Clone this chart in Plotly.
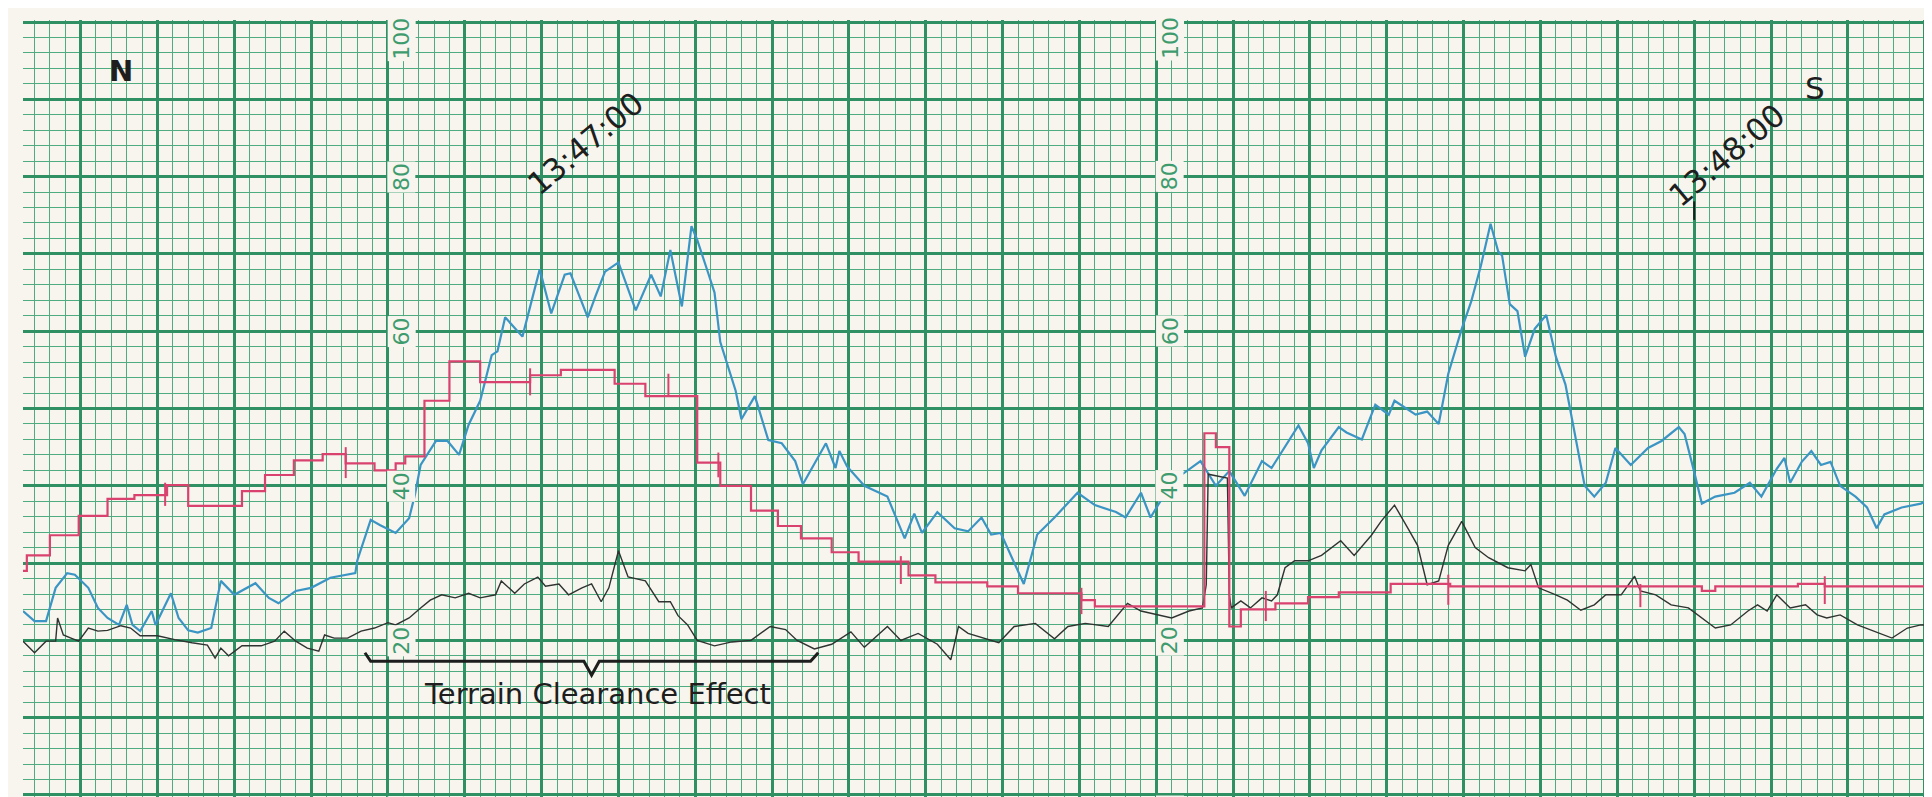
import plotly.graph_objects as go

# ---------------- data (time: seconds relative to 13:47:00, value: chart divisions 0-100) ----------------
blue_t = [-27.0, -26.4, -25.8, -25.3, -24.7, -24.3, -23.6, -23.1, -22.6, -22.0, -21.6, -21.3, -20.9, -20.3,
          -20.1, -19.3, -18.9, -18.4, -17.9, -17.2, -16.7, -16.0, -14.9, -14.2, -13.7, -12.8, -12.0, -11.0,
          -9.7, -9.6, -8.9, -8.4, -7.6, -6.9, -6.6, -6.3, -5.5, -4.9, -4.3, -3.8, -3.2, -2.6, -2.3, -1.9,
          -1.0, -0.1, 0.5, 1.2, 1.5, 2.4, 2.8, 3.3, 4.0, 4.9, 5.7, 6.2, 6.7, 7.3, 7.8, 8.1, 8.7, 9.0, 9.3,
          10.1, 10.4, 11.1, 11.8, 12.5, 13.2, 13.6, 14.8, 15.3, 15.5, 15.9, 16.8, 18.0, 18.9, 19.4, 19.8,
          20.6, 21.5, 22.2, 22.9, 23.4, 23.9, 25.1, 25.8, 26.7, 27.9, 28.8, 29.9, 30.4, 31.2, 31.7, 32.6,
          33.3, 34.3, 35.1, 35.8, 36.6, 37.5, 38.0, 39.4, 39.9, 40.2, 40.6, 41.5, 41.9, 42.7, 43.4, 44.1,
          44.4, 45.5, 46.1, 46.7, 47.2, 47.9, 48.4, 48.9, 49.4, 49.8, 50.0, 50.4, 50.8, 51.2, 51.7, 52.3,
          52.8, 53.3, 53.8, 54.3, 54.8, 55.4, 55.9, 56.7, 57.6, 58.3, 59.2, 59.5, 60.0, 60.4, 61.1, 62.1,
          62.9, 63.5, 64.3, 64.7, 65.0, 65.6, 66.1, 66.6, 67.1, 67.6, 68.4, 69.0, 69.5, 69.9, 70.8, 71.8, 72.6]
blue_v = [23.8, 22.5, 22.5, 26.8, 28.7, 28.5, 26.8, 24.2, 22.9, 22.0, 24.6, 22.0, 21.2, 23.8,
          22.0, 26.1, 22.9, 21.3, 21.0, 21.6, 27.7, 25.9, 27.4, 25.5, 24.8, 26.4, 26.8, 28.1,
          28.7, 30.3, 35.6, 34.9, 33.9, 35.8, 38.8, 42.7, 45.8, 45.8, 44.0, 47.9, 51.0, 56.9, 57.4, 61.8,
          59.3, 68.0, 62.3, 67.3, 67.5, 61.8, 64.5, 67.7, 68.9, 62.7, 67.3, 64.5, 70.5, 63.2, 73.6, 71.8, 67.3, 65.0, 58.6,
          52.3, 48.6, 51.6, 45.9, 45.5, 43.2, 40.2, 45.5, 42.3, 44.5, 42.5, 40.0, 38.6, 33.2, 36.4, 33.9,
          36.6, 34.5, 34.1, 35.9, 33.7, 33.9, 27.3, 33.7, 35.9, 39.1, 37.5, 36.6, 35.9, 39.1, 35.9, 39.6,
          41.4, 43.2, 40.0, 41.9, 38.7, 43.2, 42.3, 47.8, 45.5, 42.3, 44.6, 47.6, 46.9, 46.0, 50.5, 49.2,
          51.0, 49.2, 49.6, 48.0, 54.5, 60.3, 63.9, 68.5, 73.9, 70.3, 69.8, 63.5, 62.6, 56.7, 60.3, 62.1,
          56.7, 53.1, 46.7, 40.0, 38.6, 40.4, 44.9, 42.7, 44.9, 45.8, 47.6, 46.7, 41.8, 37.7, 38.6, 39.1,
          40.4, 38.6, 42.2, 43.6, 40.4, 43.1, 44.5, 42.7, 43.1, 40.0, 38.6, 37.2, 34.5, 36.3, 37.2, 37.7, 38.6]

black_t = [-27.0, -26.4, -25.8, -25.3, -25.2, -24.9, -24.5, -24.1, -23.6, -23.1, -22.6, -21.9, -21.4, -20.9,
           -20.0, -19.1, -18.2, -17.4, -17.0, -16.7, -16.3, -15.6, -14.6, -13.9, -13.4, -12.8, -12.2, -11.6,
           -11.3, -10.8, -10.1, -9.4, -8.7, -8.0, -7.6, -6.9, -6.3, -5.8, -5.2, -4.5, -3.8, -3.2, -2.4, -2.1,
           -1.4, -0.9, -0.2, 0.2, 0.9, 1.4, 2.1, 2.6, 3.1, 3.5, 4.0, 4.5, 5.4, 6.1, 6.7, 7.1, 7.6, 8.1, 9.0,
           9.9, 10.9, 11.9, 12.7, 13.3, 14.2, 15.1, 16.1, 16.8, 18.0, 18.7, 19.6, 20.6, 21.3, 21.7, 22.2,
           23.8, 24.6, 25.7, 26.7, 27.4, 28.3, 29.5, 30.5, 31.2, 32.8, 33.7, 34.4, 34.6, 34.7, 35.7, 35.8,
           35.9, 36.4, 36.9, 37.5, 38.0, 38.3, 38.7, 39.2, 39.9, 40.6, 41.6, 42.3, 43.2, 43.7, 44.4, 45.1,
           45.6, 46.1, 46.7, 47.2, 47.9, 48.6, 49.3, 50.3, 51.2, 51.5, 51.9, 52.8, 53.4, 54.1, 54.8, 55.4,
           56.2, 56.9, 57.2, 58.0, 58.8, 59.7, 60.4, 61.1, 61.9, 62.8, 63.3, 63.8, 64.3, 65.0, 65.8, 66.4,
           66.9, 67.6, 68.5, 69.4, 70.3, 71.1, 71.8, 72.6]
black_v = [19.9, 18.4, 19.9, 19.9, 22.9, 20.7, 20.3, 19.9, 21.6, 21.2, 21.3, 21.9, 21.6, 20.6,
           20.6, 20.1, 19.7, 19.4, 17.7, 19.0, 18.0, 19.3, 19.3, 19.9, 21.2, 19.9, 19.0, 18.6,
           20.7, 20.3, 20.3, 21.2, 21.6, 22.3, 22.0, 22.9, 24.2, 25.2, 25.9, 25.5, 26.1, 25.5, 25.9, 27.7,
           26.1, 27.3, 28.2, 27.0, 27.3, 25.9, 26.8, 27.3, 25.0, 26.8, 31.6, 28.2, 27.7, 25.0, 25.0, 23.2, 22.0, 20.0, 19.3,
           19.8, 20.0, 21.8, 21.4, 20.0, 18.9, 19.5, 21.1, 19.1, 21.8, 20.0, 20.9, 19.5, 17.5, 21.8, 20.9,
           19.7, 21.8, 22.2, 20.2, 21.8, 22.2, 21.8, 24.8, 23.8, 22.9, 23.8, 24.2, 27.2, 41.5, 41.0, 25.9,
           24.2, 25.1, 24.2, 25.5, 25.1, 25.9, 29.4, 30.3, 30.3, 31.0, 32.9, 31.0, 33.6, 35.4, 37.5, 34.5,
           32.3, 27.2, 27.7, 32.3, 35.4, 32.0, 30.7, 29.4, 29.0, 29.8, 26.8, 25.9, 25.2, 23.9, 24.6, 25.9,
           25.9, 28.3, 26.4, 25.9, 24.6, 24.2, 22.9, 21.6, 22.0, 23.8, 24.6, 23.8, 25.9, 24.2, 24.6, 23.3,
           22.9, 23.3, 22.0, 21.2, 20.3, 21.6, 22.0, 22.0]

# magenta pen: stepped record (level starts)
mag_t = [-27.0, -26.8, -25.6, -24.1, -22.6, -21.2, -19.5, -18.4, -15.6, -14.4, -12.9, -11.4, -10.2, -8.7,
         -7.6, -7.1, -6.1, -4.8, -3.2, -0.6, 1.0, 3.8, 5.4, 8.1, 9.3, 10.9, 12.3, 13.5, 15.1, 16.5, 19.1,
         20.5, 23.2, 24.8, 28.1, 28.8, 34.5, 35.1, 35.8, 36.4, 38.2, 39.9, 41.5, 44.2, 47.3, 60.4, 61.1,
         65.4, 66.8, 72.6]
mag_v = [29.0, 31.0, 33.6, 36.1, 38.3, 38.8, 40.1, 37.4, 39.3, 41.4, 43.3, 44.1, 42.9, 42.0,
         42.9, 43.8, 51.0, 56.1, 53.4, 54.3, 55.0, 53.2, 51.6, 43.0, 40.0, 36.8, 34.8, 33.2, 31.4, 30.2, 28.4,
         27.5, 27.0, 26.1, 25.2, 24.4, 46.8, 45.0, 21.8, 24.0, 24.8, 25.6, 26.2, 27.3, 27.0, 26.4, 27.0,
         27.3, 27.0, 27.0]

# event marks on the magenta pen
mark_t = [-19.6, -10.2, -0.6, 6.6, 9.2, 18.7, 28.1, 37.7, 47.2, 57.2, 66.8]
mark_lo = [37.4, 41.0, 51.7, 51.6, 41.1, 27.3, 23.4, 22.5, 24.6, 24.3, 24.7]
mark_hi = [40.4, 45.0, 55.2, 54.5, 44.3, 30.9, 26.8, 26.4, 28.5, 27.3, 28.3]

scale_labels = ["100", "80", "60", "40", "20", "0"]
scale_values = [97.9, 80, 60, 40, 20, -1.2]
label_columns = [-8, 32, 72]
time_labels = ["13:47:00", "13:48:00"]
time_label_t = [2.3, 61.7]
time_label_v = [84.3, 82.8]

# ---------------- styling ----------------
PAPER = "#f7f5ed"
GRID_MAJOR = "#2f9064"
GRID_MINOR = "#4fab80"
LABEL_GREEN = "#3d9b6e"
X0, X1 = -27.0, 72.59
Y0, Y1 = -0.26, 100.26


def fx(t):
    return (t - X0) / (X1 - X0)


def fy(v):
    return (v - Y0) / (Y1 - Y0)


fig = go.Figure()

fig.add_trace(go.Scatter(x=blue_t, y=blue_v, mode="lines",
                         line=dict(color="#3b95c4", width=2.2), hoverinfo="skip"))
fig.add_trace(go.Scatter(x=black_t, y=black_v, mode="lines",
                         line=dict(color="#2f3331", width=1.4), hoverinfo="skip"))
fig.add_trace(go.Scatter(x=mag_t, y=mag_v, mode="lines",
                         line=dict(color="#d9426f", width=2.2, shape="hv"), hoverinfo="skip"))
mx, my = [], []
for t, lo, hi in zip(mark_t, mark_lo, mark_hi):
    mx += [t, t, None]
    my += [lo, hi, None]
fig.add_trace(go.Scatter(x=mx, y=my, mode="lines",
                         line=dict(color="#d9426f", width=2.0), hoverinfo="skip"))

annotations = []
# printed scale numbers on the chart paper
for col in label_columns:
    for lab, val in zip(scale_labels, scale_values):
        annotations.append(dict(
            x=fx(col + 0.7), y=fy(val), xref="paper", yref="paper",
            text=lab, showarrow=False, textangle=-90,
            font=dict(family="DejaVu Sans", size=22, color=LABEL_GREEN),
            bgcolor=PAPER, borderpad=1, xanchor="center", yanchor="middle"))

# hand lettering
for txt, t, v in zip(time_labels, time_label_t, time_label_v):
    annotations.append(dict(x=t, y=v, xref="x", yref="y", text=txt, showarrow=False,
                            textangle=-40, font=dict(family="DejaVu Sans", size=31, color="#1e1e1e")))
annotations.append(dict(x=-21.9, y=93.6, xref="x", yref="y", text="<b>N</b>", showarrow=False,
                        font=dict(family="DejaVu Sans", size=29, color="#1e1e1e")))
annotations.append(dict(x=66.3, y=91.5, xref="x", yref="y", text="S", showarrow=False,
                        font=dict(family="DejaVu Sans", size=31, color="#1e1e1e")))
annotations.append(dict(x=2.9, y=13.1, xref="x", yref="y", text="Terrain Clearance Effect",
                        showarrow=False, font=dict(family="DejaVu Sans", size=29, color="#1e1e1e")))

shapes = [
    # bracket under the terrain clearance section
    dict(type="path", xref="x", yref="y",
         path="M -9.2,18.4 L -8.9,17.3 L 2.2,17.3 L 2.6,15.5 L 3.0,17.3 L 14.0,17.3 L 14.4,18.4",
         line=dict(color="#1e1e1e", width=3)),
    # time tick at 13:48:00
    dict(type="line", xref="x", yref="y", x0=60, x1=60, y0=74.4, y1=76.8,
         line=dict(color="#1e1e1e", width=2)),
]

fig.update_layout(
    width=1932, height=797,
    margin=dict(l=15, r=4, t=12, b=8),
    paper_bgcolor=PAPER, plot_bgcolor=PAPER,
    showlegend=False,
    annotations=annotations, shapes=shapes,
    xaxis=dict(range=[X0, X1], tick0=0, dtick=4, showgrid=True, gridcolor=GRID_MAJOR, gridwidth=2.6,
               minor=dict(dtick=0.8, showgrid=True, gridcolor=GRID_MINOR, gridwidth=1.2),
               showticklabels=False, zeroline=False, ticks="", showline=False),
    yaxis=dict(range=[Y0, Y1], tick0=0, dtick=10, showgrid=True, gridcolor=GRID_MAJOR, gridwidth=2.6,
               minor=dict(dtick=2, showgrid=True, gridcolor=GRID_MINOR, gridwidth=1.2),
               showticklabels=False, zeroline=False, ticks="", showline=False),
)

fig.write_html("out.html")
